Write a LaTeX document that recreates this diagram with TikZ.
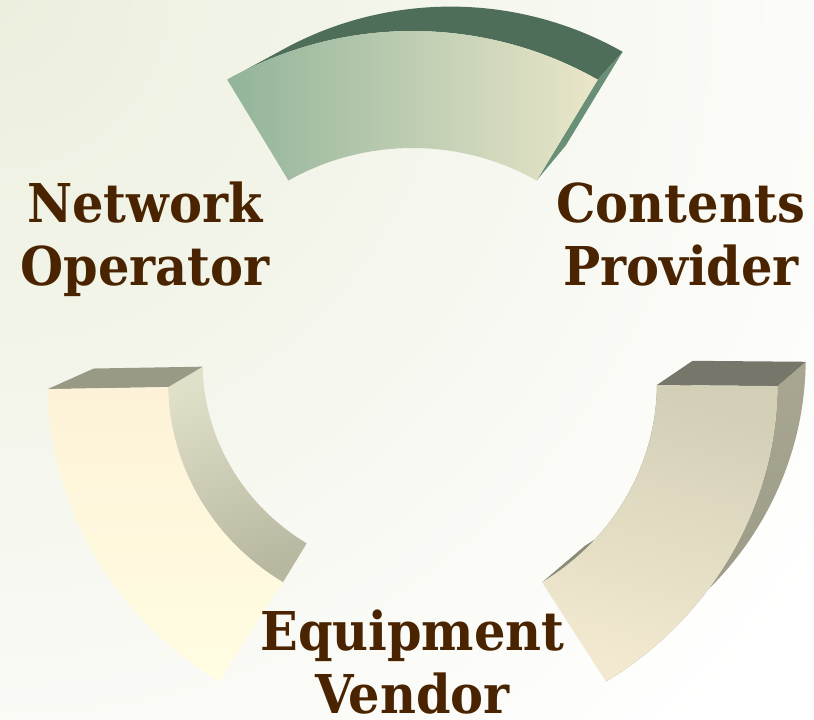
\documentclass[tikz,border=0pt]{standalone}
\usepackage{fontspec}
\newfontfamily\labelfont{DejaVu Serif}[FakeStretch=0.925]

% arc of an ellipse: centre (#1,#2), radii #3 x #4, angles #5 -> #6 (y axis points down)
\newcommand\ellarc[6]{plot[domain=#5:#6,samples=90] ({#1+#3*cos(\x)},{#2-#4*sin(\x)})}
\newcommand\toellarc[6]{-- plot[domain=#5:#6,samples=90] ({#1+#3*cos(\x)},{#2-#4*sin(\x)})}
% a single point of such an ellipse
\newcommand\ellpt[5]{({#1+#3*cos(#5)},{#2-#4*sin(#5)})}
\newcommand\toellpt[5]{-- ({#1+#3*cos(#5)},{#2-#4*sin(#5)})}

\definecolor{bgtint}{HTML}{ECEFDE}
\definecolor{labelbrown}{HTML}{4A2400}
\definecolor{topdark}{HTML}{4F6E5A}
\definecolor{topside}{HTML}{6A8F77}
\definecolor{topleft}{HTML}{92B49A}
\definecolor{topright}{HTML}{EAE6C9}
\definecolor{blcap}{HTML}{999A85}
\definecolor{blinnerA}{HTML}{E0E0C9}
\definecolor{blinnerB}{HTML}{B8B8A0}
\definecolor{blfrontA}{HTML}{FDF2D8}
\definecolor{blfrontB}{HTML}{FFFDE2}
\definecolor{brcap}{HTML}{76776A}
\definecolor{brouterA}{HTML}{A9A791}
\definecolor{brouterB}{HTML}{979784}
\definecolor{brinner}{HTML}{8A8B78}
\definecolor{brfrontA}{HTML}{D2CFB6}
\definecolor{brfrontB}{HTML}{F2E9D0}

\tikzset{
  lbl/.style={font=\labelfont\bfseries\fontsize{53.5}{62.5}\selectfont,
    text=labelbrown, align=center, inner sep=0pt, anchor=base},
}

% front ellipse of the ring
\def\Fx{412.5}\def\Fy{383}
\def\FRx{365}\def\FRy{352}
\def\Frx{244.5}\def\Fry{235}

\begin{document}
\begin{tikzpicture}[x=1pt,y=-1pt]
  \useasboundingbox (0,0) rectangle (814,720);
  % background: soft tint in the upper left corner fading to white
  \begin{scope}
    \clip (0,0) rectangle (814,720);
    \fill[white] (0,0) rectangle (814,720);
    \shade[inner color=bgtint, outer color=white] (0,0) circle (1000);
  \end{scope}

  % ---------- top segment (59.5 .. 120.5) ----------
  \def\Bx{450.7}\def\By{333.3}
  \def\BRx{338.7}\def\BRy{326.7}
  \def\Brx{226.9}\def\Bry{218.1}
  \fill[topdark] \ellarc{\Fx}{\Fy}{\FRx}{\FRy}{59.5}{120.5}
     \toellarc{\Bx}{\By}{\BRx}{\BRy}{120.5}{59.5} -- cycle;
  \fill[topside] \ellpt{\Fx}{\Fy}{\FRx}{\FRy}{59.5} \toellpt{\Bx}{\By}{\BRx}{\BRy}{59.5}
     \toellpt{\Bx}{\By}{\Brx}{\Bry}{59.5} \toellpt{\Fx}{\Fy}{\Frx}{\Fry}{59.5} -- cycle;
  \shade[left color=topleft, right color=topright]
     \ellarc{\Fx}{\Fy}{\FRx}{\FRy}{59.5}{120.5}
     \toellarc{\Fx}{\Fy}{\Frx}{\Fry}{120.5}{59.5} -- cycle;

  % ---------- lower left segment (181 .. 238) ----------
  \def\Bx{423.95}\def\By{362.96}
  \def\BRx{330.3}\def\BRy{318.6}
  \def\Brx{221.3}\def\Bry{212.7}
  \shade[top color=blinnerA, bottom color=blinnerB, shading angle=20]
     \ellarc{\Fx}{\Fy}{\Frx}{\Fry}{181}{238}
     \toellarc{\Bx}{\By}{\Brx}{\Bry}{238}{181} -- cycle;
  \fill[blcap] \ellpt{\Fx}{\Fy}{\FRx}{\FRy}{181} \toellpt{\Fx}{\Fy}{\Frx}{\Fry}{181}
     \toellpt{\Bx}{\By}{\Brx}{\Bry}{181} \toellpt{\Bx}{\By}{\BRx}{\BRy}{181} -- cycle;
  \shade[top color=blfrontA, bottom color=blfrontB]
     \ellarc{\Fx}{\Fy}{\FRx}{\FRy}{181}{238}
     \toellarc{\Fx}{\Fy}{\Frx}{\Fry}{238}{181} -- cycle;

  % ---------- lower right segment (302 .. 359.5) ----------
  \def\Bx{463.7}\def\By{358.9}
  \def\BRx{342}\def\BRy{329.8}
  \def\Brx{229.1}\def\Bry{220.2}
  \fill[brinner] \ellarc{\Fx}{\Fy}{\Frx}{\Fry}{302}{359.5}
     \toellarc{\Bx}{\By}{\Brx}{\Bry}{359.5}{302} -- cycle;
  \shade[top color=brouterA, bottom color=brouterB]
     \ellarc{\Fx}{\Fy}{\FRx}{\FRy}{302}{359.5}
     \toellarc{\Bx}{\By}{\BRx}{\BRy}{359.5}{302} -- cycle;
  \fill[brcap] \ellpt{\Fx}{\Fy}{\FRx}{\FRy}{359.5} \toellpt{\Fx}{\Fy}{\Frx}{\Fry}{359.5}
     \toellpt{\Bx}{\By}{\Brx}{\Bry}{359.5} \toellpt{\Bx}{\By}{\BRx}{\BRy}{359.5} -- cycle;
  \shade[top color=brfrontA, bottom color=brfrontB, shading angle=-15]
     \ellarc{\Fx}{\Fy}{\FRx}{\FRy}{302}{359.5}
     \toellarc{\Fx}{\Fy}{\Frx}{\Fry}{359.5}{302} -- cycle;

  % ---------- labels (anchored on the baseline of the last line) ----------
  \node[lbl] (netop) at (145,285) {Network\\Operator};
  \node[lbl] (content) at (681,285) {Contents\\Provider};
  \node[lbl] (vendor) at (412.5,713) {Equipment\\Vendor};
\end{tikzpicture}
\end{document}
